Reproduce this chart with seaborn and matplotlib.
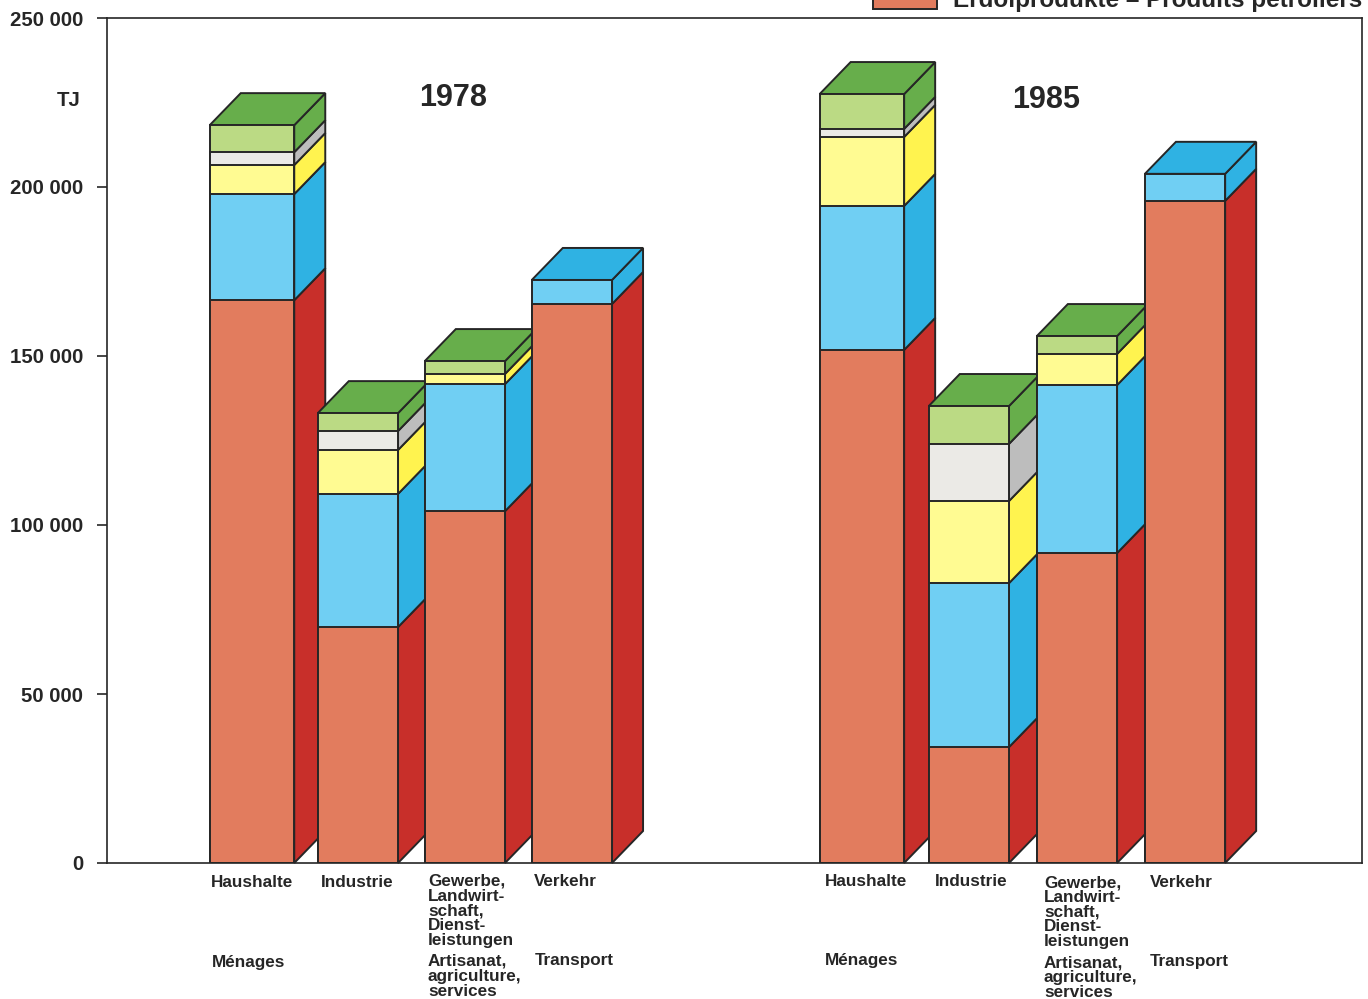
# Final energy use by sector, 1978 and 1985, as stacked bars with a drawn-on depth
import matplotlib
matplotlib.use("Agg")
import matplotlib.pyplot as plt
from matplotlib.patches import Rectangle
import pandas as pd
import seaborn as sns

# Data (TJ)
sectors_de = ["Haushalte", "Industrie", "Gewerbe,\nLandwirt-\nschaft,\nDienst-\nleistungen", "Verkehr"]
sectors_fr = ["Ménages", "", "Artisanat,\nagriculture,\nservices", "Transport"]
years = ["1978", "1985"]
layers = ["oil", "blue", "yellow", "grey", "green"]
yticks = [0, 50000, 100000, 150000, 200000, 250000]
ytick_labels = ["0", "50 000", "100 000", "150 000", "200 000", "250 000"]
legend_label = "Erdölprodukte – Produits pétroliers"

oil_78 = [166500, 69800, 104100, 165400]
blue_78 = [31400, 39400, 37600, 7100]
yellow_78 = [8600, 13000, 3000, 0]
grey_78 = [3800, 5600, 0, 0]
green_78 = [8000, 5300, 3800, 0]

oil_85 = [151800, 34300, 91700, 195900]
blue_85 = [42600, 48500, 49700, 8000]
yellow_85 = [20400, 24300, 9200, 0]
grey_85 = [2400, 16900, 0, 0]
green_85 = [10300, 11200, 5300, 0]

values = {
    "1978": [oil_78, blue_78, yellow_78, grey_78, green_78],
    "1985": [oil_85, blue_85, yellow_85, grey_85, green_85],
}

front = {"oil": "#E27C5E", "blue": "#70CFF3", "yellow": "#FFFB92", "grey": "#EBEAE6", "green": "#BBDA84"}
side = {"oil": "#C82F2A", "blue": "#2FB2E3", "yellow": "#FFF34F", "grey": "#BDBDBD", "green": "#67AE4B"}
ink = "#262626"
edge_width = 1.4

W, H = 1368, 999
sns.set_theme(style="ticks")
plt.rcParams["font.family"] = ["Liberation Sans", "DejaVu Sans"]
plt.rcParams["font.weight"] = "bold"

fig = plt.figure(figsize=(W / 100, H / 100), dpi=100)
ax = fig.add_axes([107 / W, 1 - 863 / H, 1255 / W, 845 / H])

# one x unit is one bar slot (107 px); depth is about 32 px in both directions
slot_px = 107
ax.set_xlim(-(252 - 107) / slot_px, (1362 - 252) / slot_px)
ax.set_ylim(0, 250000)
depth_x = 31 / slot_px
depth_y = 32 / 845 * 250000

slots = {"1978": [0, 0.99, 1.99, 2.99], "1985": [5.7, 6.7, 7.71, 8.72]}
widths = [0.79, 0.75, 0.75, 0.75]


def draw_bar(x, width, heights):
    rows = pd.DataFrame({"x": x, "layer": layers, "height": heights})
    rows = rows[rows["height"] > 0].copy()
    rows["top"] = rows["height"].cumsum()
    rows["bottom"] = rows["top"] - rows["height"]
    xl, xr = x - width / 2, x + width / 2

    # side faces and lid go first, the front of the next bar paints over them
    for r in rows.itertuples():
        ax.fill([xr, xr + depth_x, xr + depth_x, xr],
                [r.bottom, r.bottom + depth_y, r.top + depth_y, r.top],
                facecolor=side[r.layer], edgecolor=ink, linewidth=edge_width, clip_on=False)
    last = rows.iloc[-1]
    ax.fill([xl, xl + depth_x, xr + depth_x, xr],
            [last["top"], last["top"] + depth_y, last["top"] + depth_y, last["top"]],
            facecolor=side[last["layer"]], edgecolor=ink, linewidth=edge_width, clip_on=False)

    # stacked front: tallest cumulative bar first
    sns.barplot(data=rows, x="x", y="top", hue="layer", hue_order=list(rows["layer"][::-1]),
                palette=front, native_scale=True, dodge=False, width=width, saturation=1,
                errorbar=None, legend=False, edgecolor=ink, linewidth=edge_width, ax=ax)


for year in years:
    for i in range(len(sectors_de)):
        draw_bar(slots[year][i], widths[i], [series[i] for series in values[year]])

ax.set_xlim(-(252 - 107) / slot_px, (1362 - 252) / slot_px)
ax.set_ylim(0, 250000)
ax.set_xlabel("")
ax.set_ylabel("")
ax.set_xticks([])
ax.set_yticks(yticks)
ax.set_yticklabels(ytick_labels, fontsize=14.7, fontweight="bold", color=ink)
ax.tick_params(axis="y", length=7.2, width=1.2, pad=10, color=ink)
for s in ax.spines.values():
    s.set_visible(True)
    s.set_color(ink)
    s.set_linewidth(1.2)


def label(px, py, text, size=12.3, **kw):
    # px, py: left edge and vertical centre of the first line, in image pixels
    fig.text(px / W, 1 - py / H, text, fontsize=size, fontweight="bold", color=ink,
             ha="left", va="center", **kw)


def block(px, py, text):
    # multi-line block, anchored on its top line
    fig.text(px / W, 1 - (py - 6) / H, text, fontsize=12.3, fontweight="bold", color=ink,
             ha="left", va="top", linespacing=0.98)


label(57, 101, "TJ", size=14.7)
label(419, 98, "1978", size=22)
label(1012, 100, "1985", size=22)

de_pos = [(211, 881), (321, 881), (428, 880), (534, 880), (825, 880), (935, 880), (1044, 881), (1150, 881)]
fr_pos = [(212, 961), None, (428, 960), (535, 959), (825, 959), None, (1044, 961), (1150, 960)]
for k, (xy_de, xy_fr) in enumerate(zip(de_pos, fr_pos)):
    block(xy_de[0], xy_de[1], sectors_de[k % 4])
    if xy_fr is not None:
        block(xy_fr[0], xy_fr[1], sectors_fr[k % 4])

# the legend runs off the top of the scan
fig.add_artist(Rectangle((873 / W, 1 - 9 / H), 64 / W, 14 / H, transform=fig.transFigure,
                         facecolor=front["oil"], edgecolor=ink, linewidth=edge_width))
fig.text(953 / W, 1 - 7 / H, legend_label, fontsize=17.5, fontweight="bold", color=ink,
         ha="left", va="baseline")

fig.savefig("out.png", dpi=100, facecolor="white")
